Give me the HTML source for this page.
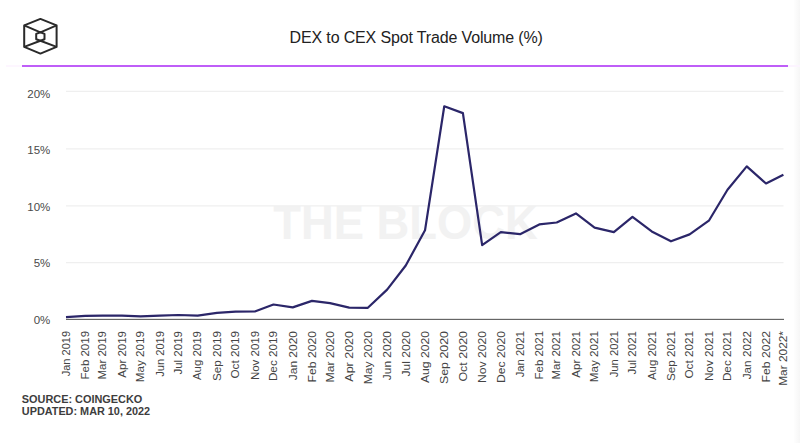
<!DOCTYPE html>
<html><head><meta charset="utf-8"><style>
html,body{margin:0;padding:0;background:#fff;width:800px;height:443px;overflow:hidden}
svg{display:block;position:absolute;left:0;top:0}
.t{font-family:"Liberation Sans",sans-serif;font-size:16px;letter-spacing:-0.15px;fill:#222}
.yl{font-family:"Liberation Sans",sans-serif;font-size:11.5px;fill:#4a4a4a}
.xl{font-family:"Liberation Sans",sans-serif;font-size:11px;fill:#444}
.src{font-family:"Liberation Sans",sans-serif;font-size:11px;font-weight:bold;fill:#3d3d3d}
.wm{font-family:"Liberation Sans",sans-serif;font-size:47.5px;font-weight:bold;fill:#f2f2f2}
</style></head><body>
<svg width="800" height="443" viewBox="0 0 800 443">
<defs><linearGradient id="rg" x1="0" x2="1" y1="0" y2="0"><stop offset="0" stop-color="#fefefe"/><stop offset="1" stop-color="#f6f6f6"/></linearGradient></defs><rect x="794" y="0" width="6" height="443" fill="url(#rg)"/>
<g fill="none" stroke="#2a2a2a" stroke-width="2" stroke-linejoin="round">
<path d="M40.4,18.9 L56.6,25.4 L56.6,46.9 L40.4,53.6 L24.2,46.9 L24.2,25.4 Z"/>
<path d="M24.2,25.4 L40.4,32.3 L56.6,25.4"/>
<path d="M24.2,46.9 L40.4,40.8 L56.6,46.9"/>
<path d="M40.4,32.3 L44.5,33.9 L44.5,39.2 L40.4,40.8 L36.2,39.2 L36.2,33.9 Z"/>
</g>
<text x="289.6" y="43.1" class="t">DEX to CEX Spot Trade Volume (%)</text>
<line x1="6" y1="66" x2="22" y2="66" stroke="#fdf6ff" stroke-width="2"/>
<line x1="788" y1="66" x2="800" y2="66" stroke="#fcf4ff" stroke-width="2"/>
<line x1="22" y1="66" x2="788" y2="66" stroke="#bf5ef8" stroke-width="2"/>
<text x="273.3" y="238.5" class="wm" textLength="264.5" lengthAdjust="spacingAndGlyphs">THE BLOCK</text>
<line x1="66" y1="91.4" x2="783.5" y2="91.4" stroke="#efefef" stroke-width="1.3"/>
<line x1="66" y1="148.8" x2="783.5" y2="148.8" stroke="#efefef" stroke-width="1.3"/>
<line x1="66" y1="205.8" x2="783.5" y2="205.8" stroke="#efefef" stroke-width="1.3"/>
<line x1="66" y1="262.6" x2="783.5" y2="262.6" stroke="#efefef" stroke-width="1.3"/>

<line x1="66" y1="319.35" x2="784" y2="319.35" stroke="#4a4a4a" stroke-width="1"/>
<text x="50.3" y="97.5" text-anchor="end" class="yl">20%</text>
<text x="50.3" y="154.2" text-anchor="end" class="yl">15%</text>
<text x="50.3" y="211" text-anchor="end" class="yl">10%</text>
<text x="50.3" y="267.3" text-anchor="end" class="yl">5%</text>
<text x="50.3" y="324.1" text-anchor="end" class="yl">0%</text>

<polyline points="66.00,317.1 85.25,315.8 102.65,315.6 121.90,315.6 140.54,316.4 159.79,315.7 178.42,315.0 197.68,315.6 216.93,312.8 235.57,311.7 254.82,311.5 273.46,304.5 292.71,307.4 311.97,300.9 329.98,303.1 349.23,307.6 367.87,307.8 387.12,289.6 405.76,265.5 425.01,230.3 444.27,106.25 462.90,113.1 482.15,245.1 500.79,232.1 520.04,234.2 539.30,224.4 556.69,222.5 575.94,213.4 594.58,227.6 613.83,232.1 632.47,216.8 651.72,231.4 670.98,241.3 689.61,234.4 708.86,220.7 727.50,189.7 746.75,166.4 766.01,183.5 783.40,174.8" fill="none" stroke="#2b2669" stroke-width="2.2" stroke-linejoin="round" stroke-linecap="butt"/>
<text transform="translate(69.80,331) rotate(-90)" text-anchor="end" class="xl" textLength="45.27" lengthAdjust="spacingAndGlyphs">Jan 2019</text>
<text transform="translate(89.05,331) rotate(-90)" text-anchor="end" class="xl" textLength="48.48" lengthAdjust="spacingAndGlyphs">Feb 2019</text>
<text transform="translate(106.45,331) rotate(-90)" text-anchor="end" class="xl" textLength="48.48" lengthAdjust="spacingAndGlyphs">Mar 2019</text>
<text transform="translate(125.70,331) rotate(-90)" text-anchor="end" class="xl" textLength="46.66" lengthAdjust="spacingAndGlyphs">Apr 2019</text>
<text transform="translate(144.34,331) rotate(-90)" text-anchor="end" class="xl" textLength="51.31" lengthAdjust="spacingAndGlyphs">May 2019</text>
<text transform="translate(163.59,331) rotate(-90)" text-anchor="end" class="xl" textLength="45.87" lengthAdjust="spacingAndGlyphs">Jun 2019</text>
<text transform="translate(182.22,331) rotate(-90)" text-anchor="end" class="xl" textLength="43.59" lengthAdjust="spacingAndGlyphs">Jul 2019</text>
<text transform="translate(201.48,331) rotate(-90)" text-anchor="end" class="xl" textLength="49.11" lengthAdjust="spacingAndGlyphs">Aug 2019</text>
<text transform="translate(220.73,331) rotate(-90)" text-anchor="end" class="xl" textLength="50.11" lengthAdjust="spacingAndGlyphs">Sep 2019</text>
<text transform="translate(239.37,331) rotate(-90)" text-anchor="end" class="xl" textLength="47.64" lengthAdjust="spacingAndGlyphs">Oct 2019</text>
<text transform="translate(258.62,331) rotate(-90)" text-anchor="end" class="xl" textLength="49.09" lengthAdjust="spacingAndGlyphs">Nov 2019</text>
<text transform="translate(277.26,331) rotate(-90)" text-anchor="end" class="xl" textLength="50.09" lengthAdjust="spacingAndGlyphs">Dec 2019</text>
<text transform="translate(296.51,331) rotate(-90)" text-anchor="end" class="xl" textLength="49.27" lengthAdjust="spacingAndGlyphs">Jan 2020</text>
<text transform="translate(315.77,331) rotate(-90)" text-anchor="end" class="xl" textLength="51.48" lengthAdjust="spacingAndGlyphs">Feb 2020</text>
<text transform="translate(333.78,331) rotate(-90)" text-anchor="end" class="xl" textLength="51.48" lengthAdjust="spacingAndGlyphs">Mar 2020</text>
<text transform="translate(353.03,331) rotate(-90)" text-anchor="end" class="xl" textLength="50.66" lengthAdjust="spacingAndGlyphs">Apr 2020</text>
<text transform="translate(371.67,331) rotate(-90)" text-anchor="end" class="xl" textLength="53.31" lengthAdjust="spacingAndGlyphs">May 2020</text>
<text transform="translate(390.92,331) rotate(-90)" text-anchor="end" class="xl" textLength="49.27" lengthAdjust="spacingAndGlyphs">Jun 2020</text>
<text transform="translate(409.56,331) rotate(-90)" text-anchor="end" class="xl" textLength="45.59" lengthAdjust="spacingAndGlyphs">Jul 2020</text>
<text transform="translate(428.81,331) rotate(-90)" text-anchor="end" class="xl" textLength="52.11" lengthAdjust="spacingAndGlyphs">Aug 2020</text>
<text transform="translate(448.07,331) rotate(-90)" text-anchor="end" class="xl" textLength="53.11" lengthAdjust="spacingAndGlyphs">Sep 2020</text>
<text transform="translate(466.70,331) rotate(-90)" text-anchor="end" class="xl" textLength="50.64" lengthAdjust="spacingAndGlyphs">Oct 2020</text>
<text transform="translate(485.95,331) rotate(-90)" text-anchor="end" class="xl" textLength="52.09" lengthAdjust="spacingAndGlyphs">Nov 2020</text>
<text transform="translate(504.59,331) rotate(-90)" text-anchor="end" class="xl" textLength="52.09" lengthAdjust="spacingAndGlyphs">Dec 2020</text>
<text transform="translate(523.84,331) rotate(-90)" text-anchor="end" class="xl" textLength="46.27" lengthAdjust="spacingAndGlyphs">Jan 2021</text>
<text transform="translate(543.10,331) rotate(-90)" text-anchor="end" class="xl" textLength="48.48" lengthAdjust="spacingAndGlyphs">Feb 2021</text>
<text transform="translate(560.49,331) rotate(-90)" text-anchor="end" class="xl" textLength="48.48" lengthAdjust="spacingAndGlyphs">Mar 2021</text>
<text transform="translate(579.74,331) rotate(-90)" text-anchor="end" class="xl" textLength="46.66" lengthAdjust="spacingAndGlyphs">Apr 2021</text>
<text transform="translate(598.38,331) rotate(-90)" text-anchor="end" class="xl" textLength="51.31" lengthAdjust="spacingAndGlyphs">May 2021</text>
<text transform="translate(617.63,331) rotate(-90)" text-anchor="end" class="xl" textLength="46.27" lengthAdjust="spacingAndGlyphs">Jun 2021</text>
<text transform="translate(636.27,331) rotate(-90)" text-anchor="end" class="xl" textLength="43.59" lengthAdjust="spacingAndGlyphs">Jul 2021</text>
<text transform="translate(655.52,331) rotate(-90)" text-anchor="end" class="xl" textLength="49.11" lengthAdjust="spacingAndGlyphs">Aug 2021</text>
<text transform="translate(674.78,331) rotate(-90)" text-anchor="end" class="xl" textLength="50.11" lengthAdjust="spacingAndGlyphs">Sep 2021</text>
<text transform="translate(693.41,331) rotate(-90)" text-anchor="end" class="xl" textLength="47.64" lengthAdjust="spacingAndGlyphs">Oct 2021</text>
<text transform="translate(712.66,331) rotate(-90)" text-anchor="end" class="xl" textLength="50.09" lengthAdjust="spacingAndGlyphs">Nov 2021</text>
<text transform="translate(731.30,331) rotate(-90)" text-anchor="end" class="xl" textLength="50.09" lengthAdjust="spacingAndGlyphs">Dec 2021</text>
<text transform="translate(750.55,331) rotate(-90)" text-anchor="end" class="xl" textLength="48.27" lengthAdjust="spacingAndGlyphs">Jan 2022</text>
<text transform="translate(769.81,331) rotate(-90)" text-anchor="end" class="xl" textLength="51.48" lengthAdjust="spacingAndGlyphs">Feb 2022</text>
<text transform="translate(787.20,331) rotate(-90)" text-anchor="end" class="xl" textLength="54.77" lengthAdjust="spacingAndGlyphs">Mar 2022*</text>

<text x="21.8" y="402.6" class="src" textLength="120.5" lengthAdjust="spacingAndGlyphs">SOURCE: COINGECKO</text>
<text x="21.8" y="415.2" class="src" textLength="128.3" lengthAdjust="spacingAndGlyphs">UPDATED: MAR 10, 2022</text>
</svg>
</body></html>
